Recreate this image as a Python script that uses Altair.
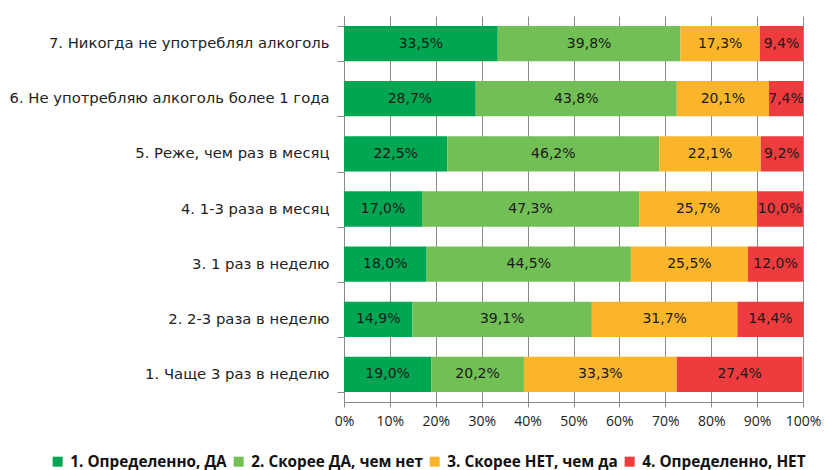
import altair as alt
import pandas as pd

categories = [
    "7. Никогда не употреблял алкоголь",
    "6. Не употребляю алкоголь более 1 года",
    "5. Реже, чем  раз в месяц",
    "4. 1-3 раза в месяц",
    "3. 1 раз в неделю",
    "2. 2-3 раза в неделю",
    "1. Чаще 3 раз в неделю",
]
series = ["1. Определенно, ДА", "2. Скорее ДА, чем нет", "3. Скорее НЕТ, чем да", "4. Определенно, НЕТ"]
colors = ["#00A651", "#71BF55", "#FBB52B", "#EE3B3E"]

s1 = [33.5, 28.7, 22.5, 17.0, 18.0, 14.9, 19.0]
s2 = [39.8, 43.8, 46.2, 47.3, 44.5, 39.1, 20.2]
s3 = [17.3, 20.1, 22.1, 25.7, 25.5, 31.7, 33.3]
s4 = [9.4, 7.4, 9.2, 10.0, 12.0, 14.4, 27.4]

rows = []
for i, c in enumerate(categories):
    for j, vals in enumerate([s1, s2, s3, s4]):
        rows.append({"cat": c, "series": series[j], "ord": j, "v": vals[i]})
df = pd.DataFrame(rows)

FONT = "DejaVu Sans"
LFONT = "Open Sans"

base = alt.Chart(df).transform_stack(
    stack="v", groupby=["cat"], as_=["x0", "x1"], sort=[alt.SortField("ord", order="ascending")]
).transform_calculate(
    mid="(datum.x0 + datum.x1) / 2",
    lab="replace(format(datum.v, '.1f'), '.', ',') + '%'",
)

y = alt.Y(
    "cat:N",
    sort=categories,
    title=None,
    scale=alt.Scale(paddingInner=0.36, paddingOuter=0.18),
    axis=alt.Axis(
        tickBand="extent",
        tickSize=7,
        labelPadding=8,
        labelFontSize=14.8,
        labelFont=FONT,
        labelColor="#222222",
        labelLimit=400,
        domainColor="#8a8a8a",
        tickColor="#8a8a8a",
        minExtent=336,
        maxExtent=336,
        grid=False,
    ),
)

bars = base.mark_bar().encode(
    x=alt.X(
        "x0:Q",
        scale=alt.Scale(domain=[0, 100], nice=False),
        title=None,
        axis=alt.Axis(
            values=list(range(0, 101, 10)),
            labelExpr="datum.value + '%'",
            labelOverlap=False,
            labelFlush=False,
            labelFontSize=14,
            labelFont=LFONT,
            labelColor="#222222",
            labelPadding=7,
            tickSize=5,
            tickColor="#8a8a8a",
            domainColor="#8a8a8a",
            grid=True,
            gridColor="#8a8a8a",
            gridWidth=1,
        ),
    ),
    x2="x1:Q",
    y=y,
    color=alt.Color(
        "series:N",
        scale=alt.Scale(domain=series, range=colors),
        sort=series,
        title=None,
        legend=alt.Legend(
            orient="none",
            legendX=-294,
            legendY=438,
            direction="horizontal",
            symbolType="square",
            symbolSize=100,
            symbolStrokeWidth=0,
            labelFont=LFONT,
            labelFontSize=15.3,
            labelFontWeight="bold",
            labelColor="#111111",
            labelLimit=400,
            columnPadding=4,
            symbolOffset=0,
            labelOffset=5,
        ),
    ),
)

texts = base.mark_text(font=FONT, fontSize=14, color="#1a1a1a").encode(
    x="mid:Q",
    y=alt.Y("cat:N", sort=categories),
    text="lab:N",
)

chart = (
    alt.layer(bars, texts)
    .properties(width=459, height=386, padding={"left": 0, "top": 0, "right": 0, "bottom": 0})
    .configure_view(stroke=None)
)

chart.save("out.html", embed_options={"renderer": "svg", "actions": False})
